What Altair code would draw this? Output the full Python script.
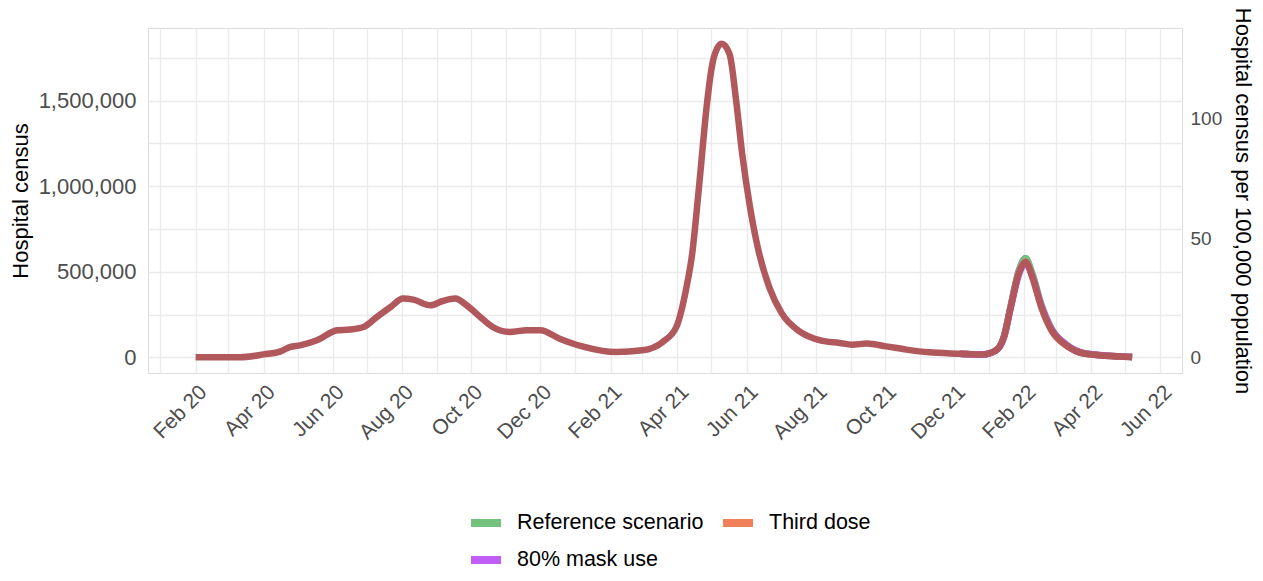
import altair as alt
import pandas as pd

# ---- data ----
main_dates = [
    "2020-02-01", "2020-03-11", "2020-04-01", "2020-04-16", "2020-04-24", "2020-05-03",
    "2020-05-18", "2020-06-05", "2020-06-16", "2020-06-28", "2020-07-10", "2020-07-22",
    "2020-08-02", "2020-08-11", "2020-08-26", "2020-09-06", "2020-09-17", "2020-09-27",
    "2020-10-09", "2020-10-20", "2020-11-04", "2020-11-19", "2020-12-01", "2020-12-18",
    "2021-01-07", "2021-02-06", "2021-03-01", "2021-03-19", "2021-03-31", "2021-04-09",
    "2021-04-14", "2021-04-20", "2021-04-27", "2021-04-30", "2021-05-03", "2021-05-10",
    "2021-05-17", "2021-05-23", "2021-05-28", "2021-06-04", "2021-06-12", "2021-06-21",
    "2021-07-02", "2021-07-18", "2021-08-05", "2021-08-22", "2021-09-02", "2021-09-15",
    "2021-10-02", "2021-10-20", "2021-11-09", "2021-12-06", "2021-12-26", "2022-01-07",
    "2022-01-14", "2022-01-20", "2022-01-27", "2022-02-02", "2022-02-08", "2022-02-16",
    "2022-02-25", "2022-03-10", "2022-03-27", "2022-05-07",
]
main_census_k = [
    0, 0, 17, 35, 60, 70,
    100, 158, 162, 177, 236, 294,
    343, 337, 304, 329, 343, 304,
    236, 177, 148, 158, 158, 109,
    64, 31, 41, 90, 177, 411,
    606, 996, 1480, 1640, 1750, 1832,
    1770, 1485, 1193, 877, 608, 409,
    257, 150, 99, 84, 74, 80,
    64, 45, 29, 21, 16, 41,
    119, 294, 489, 557, 470, 294,
    158, 70, 21, 2,
]

scen_dates = [
    "2021-12-06", "2021-12-26", "2022-01-07", "2022-01-14", "2022-01-20", "2022-01-27",
    "2022-02-02", "2022-02-08", "2022-02-16", "2022-02-25", "2022-03-10", "2022-03-27",
    "2022-05-07",
]
current_k   = [21, 16, 42, 125, 305, 505, 578, 480, 296, 158, 70, 21, 2]
reference_k = [21, 16, 41, 120, 297, 500, 578, 492, 310, 168, 75, 23, 2]
third_k     = [21, 16, 41, 121, 300, 495, 560, 465, 290, 155, 68, 21, 2]
mask_k      = [21, 16, 40, 117, 290, 480, 548, 475, 302, 165, 74, 23, 2]

# legend fills column by column: this order gives the reference's 2-column layout
scenarios = ["Reference scenario", "80% mask use", "Third dose"]
scen_colors = ["#72c17d", "#bf5ff5", "#f0805a"]
population = 1_393_000_000

# ---- tables ----
main_df = pd.DataFrame({"date": main_dates, "census": [v * 1000 for v in main_census_k]})
main_df["per100k"] = main_df["census"] / population * 1e5

current_df = pd.DataFrame({"date": scen_dates, "census": [v * 1000 for v in current_k]})
scen_df = pd.concat([
    pd.DataFrame({"date": scen_dates, "census": [v * 1000 for v in vals], "scenario": name})
    for name, vals in zip(["Reference scenario", "Third dose", "80% mask use"],
                          [reference_k, third_k, mask_k])
])

ymax = max(main_df["census"])
pad = 0.05 * ymax
ydom = [-pad, ymax + pad]
ydom2 = [v / population * 1e5 for v in ydom]

months = []
for y in (2020, 2021, 2022):
    for m in range(1, 13):
        if (y == 2022 and m > 6):
            continue
        months.append(alt.DateTime(year=y, month=m, date=1))

xscale = alt.Scale(domain=[alt.DateTime(year=2019, month=12, date=21),
                           alt.DateTime(year=2022, month=6, date=20)])
xaxis = alt.Axis(values=months, title=None, grid=True, domain=False, ticks=False,
                 labelExpr="month(datum.value) % 2 == 1 ? timeFormat(datum.value, '%b %y') : ''",
                 labelOverlap=False, labelAngle=-45, labelAlign="right", labelBaseline="top",
                 labelFontSize=21, labelColor="#4d4d4d", labelPadding=8,
                 gridColor="#ebebeb", gridWidth=1.3)
X = alt.X("date:T", scale=xscale, axis=xaxis)

yaxis = alt.Axis(values=[0, 250000, 500000, 750000, 1000000, 1250000, 1500000, 1750000],
                 labelExpr="datum.value % 500000 == 0 ? format(datum.value, ',') : ''",
                 title="Hospital census", titleFontSize=22, titleFontWeight="normal",
                 titleColor="black", titleX=-128, titleBaseline="middle",
                 domain=False, ticks=False, labelFontSize=22, labelColor="#4d4d4d",
                 labelPadding=12, gridColor="#ebebeb", gridWidth=1.3)
yscale = alt.Scale(domain=ydom, nice=False, zero=False)

current_line = alt.Chart(current_df).mark_line(
    color="#4a66b0", strokeWidth=6.5, interpolate="monotone"
).encode(x=X, y=alt.Y("census:Q", scale=yscale, axis=yaxis))

scen_lines = alt.Chart(scen_df).mark_line(strokeWidth=6.5, interpolate="monotone").encode(
    x=X,
    y=alt.Y("census:Q", scale=yscale, axis=yaxis),
    color=alt.Color("scenario:N", sort=scenarios,
                    scale=alt.Scale(domain=scenarios, range=scen_colors),
                    legend=alt.Legend(orient="none", legendX=319, legendY=476, columns=2,
                                      title=None, symbolType="stroke", symbolSize=900,
                                      symbolStrokeWidth=8, labelFontSize=21.5,
                                      labelColor="black", labelOffset=12, labelLimit=400,
                                      columnPadding=3, rowPadding=2)),
)

main_line = alt.Chart(main_df).mark_line(
    color="#b0585c", strokeWidth=6.5, interpolate="monotone", strokeJoin="round"
).encode(x=X, y=alt.Y("census:Q", scale=yscale, axis=yaxis))

left = alt.layer(current_line, scen_lines, main_line)

right = alt.Chart(main_df).mark_line(opacity=0).encode(
    x=X,
    y=alt.Y("per100k:Q", scale=alt.Scale(domain=ydom2, nice=False, zero=False),
            axis=alt.Axis(orient="right", values=[0, 50, 100], grid=False, domain=False,
                          ticks=False, labelFontSize=19, labelColor="#4d4d4d",
                          labelPadding=8,
                          title="Hospital census per 100,000 population",
                          titleFontSize=22, titleFontWeight="normal", titleColor="black",
                          titleAngle=90, titleX=60, titleBaseline="middle")),
)

chart = alt.layer(left, right).resolve_scale(y="independent").properties(
    width=1034, height=345,
    padding={"left": 140, "top": 20, "right": 73, "bottom": 200},
    autosize=alt.AutoSizeParams(type="none"),
).configure_view(strokeWidth=0).configure(font="Liberation Sans")

chart.save("out.html", embed_options={"renderer": "svg", "actions": False})
